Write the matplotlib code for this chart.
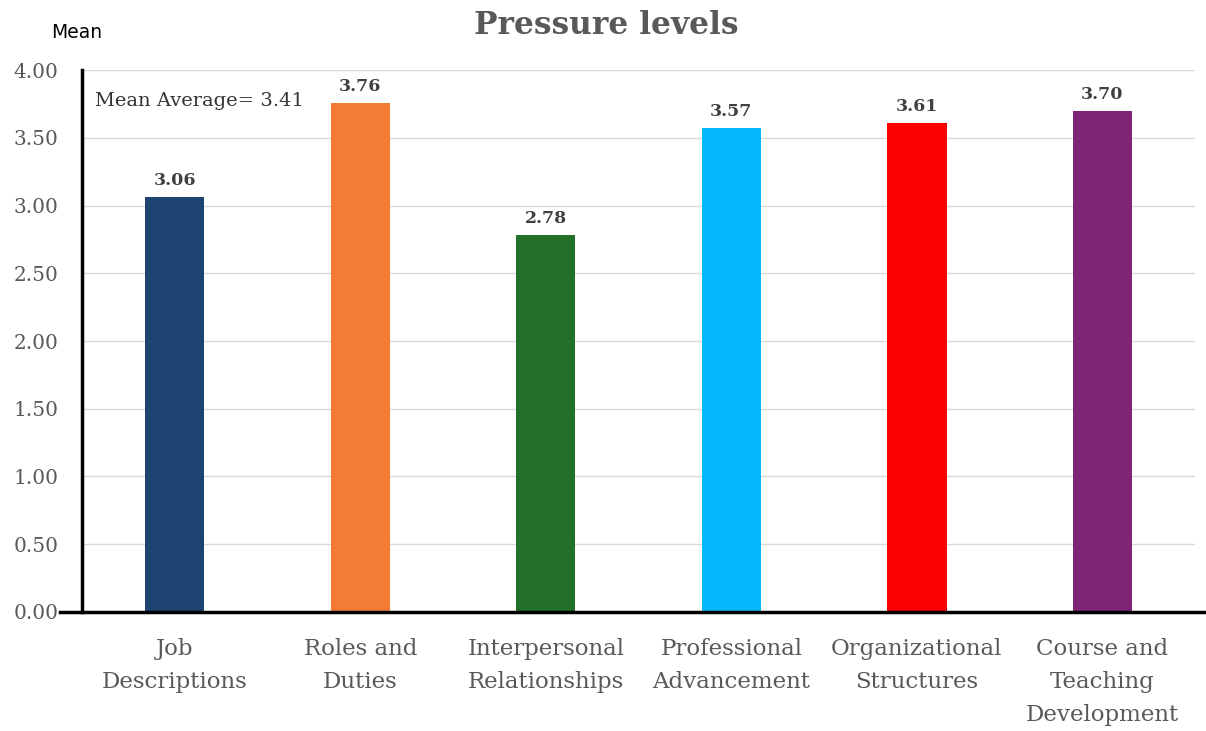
import matplotlib.pyplot as plt

categories = ["Job\nDescriptions", "Roles and\nDuties", "Interpersonal\nRelationships",
              "Professional\nAdvancement", "Organizational\nStructures",
              "Course and\nTeaching\nDevelopment"]
means = [3.06, 3.76, 2.78, 3.57, 3.61, 3.70]
colors = ["#1D4470", "#F47B36", "#23702B", "#05B8FB", "#FB0000", "#7E2578"]
yticks = [0, 0.5, 1, 1.5, 2, 2.5, 3, 3.5, 4]
mean_average = 3.41

plt.rcParams['font.family'] = ['DejaVu Serif']

fig = plt.figure(figsize=(12.06, 7.31), dpi=100)
ax = fig.add_axes([0.068, 0.163, 0.923, 0.741])

x = range(len(categories))
ax.bar(x, means, width=0.32, color=colors, zorder=3)

for i, v in enumerate(means):
    ax.text(i, v + 0.06, f"{v:.2f}", ha="center", va="bottom",
            fontsize=12.5, fontweight="bold", color="#404040")

ax.set_xlim(-0.5, 5.5)
ax.set_ylim(0, 4)
ax.set_yticks(yticks)
ax.set_yticklabels([f"{t:.2f}" for t in yticks])
ax.set_xticks(list(x))
ax.set_xticklabels(categories)
ax.tick_params(axis="y", length=0, labelsize=14.5, labelcolor="#595959", pad=17)
ax.tick_params(axis="x", length=0, labelsize=16.5, labelcolor="#595959", pad=19)
for lbl in ax.get_xticklabels():
    lbl.set_linespacing(1.63)

ax.grid(axis="y", color="#D9D9D9", linewidth=1, zorder=0)
for s in ["top", "right", "bottom"]:
    ax.spines[s].set_visible(False)
ax.spines["left"].set_linewidth(2.5)
ax.spines["left"].set_color("black")

# baseline runs past the y axis on the left and to the figure edge on the right
ax.plot([-0.02, 1.01], [0, 0], transform=ax.get_yaxis_transform(),
        color="black", linewidth=2.5, clip_on=False, zorder=4)

ax.text(0.012, 3.77, f"Mean Average= {mean_average:.2f}", fontsize=14,
        color="#333333", transform=ax.get_yaxis_transform(), va="center")

fig.text(0.503, 0.965, "Pressure levels", ha="center", va="center",
         fontsize=22.5, fontweight="bold", color="#595959")
fig.text(0.064, 0.955, "Mean", ha="center", va="center", fontsize=13.5,
         family="DejaVu Sans", color="black")

fig.savefig("out.png")
